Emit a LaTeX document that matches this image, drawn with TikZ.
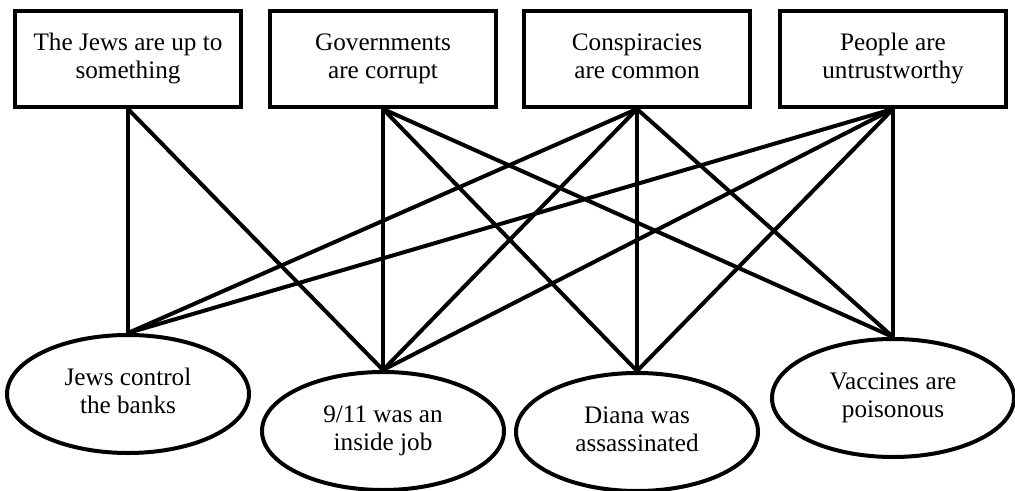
\documentclass[tikz,border=0pt]{standalone}
\usepackage{fontspec}
\setmainfont{Liberation Serif}
\usetikzlibrary{positioning,shapes.geometric}

\newcommand{\nodestrut}{\rule[-3pt]{0pt}{16pt}} % same baselines in every node

\begin{document}
\begin{tikzpicture}[
	line width = 2pt, % line style
	font = \fontsize{12.6}{14.2}\selectfont,
	execute at begin node = \nodestrut, execute at end node = \nodestrut,
	B/.style={rectangle, draw=black, align=center, minimum width=113pt, minimum height=48pt, inner sep=2pt},  %belief box
	E/.style={ellipse, draw=black, align=center, minimum width=121pt, minimum height=59pt, inner sep=0pt},     %theory ellipse
	]
	\useasboundingbox (0,0) rectangle (507.5pt,-245.5pt);

	% General beliefs
	% Nodes and their relative positions
	\node[B] (B1) at (64pt,-29.5pt) {The Jews are up to\\something};
	\node[B] (B2) [right = 12.5pt of B1] {Governments\\are corrupt};
	\node[B] (B3) [right = 12pt of B2] {Conspiracies\\are common};
	\node[B] (B4) [right = 13pt of B3] {People are\\untrustworthy};

	% Specific theories
	% Nodes and their relative positions
	\node[E] (E1) [below = 112pt of B1] {Jews control\\the banks};
	\node[E] (E2) [below = 130.5pt of B2] {9/11 was an\\inside job};
	\node[E] (E3) [below = 131pt of B3] {Diana was\\assassinated};
	\node[E] (E4) [below = 114pt of B4] {Vaccines are\\poisonous};

	% Paths connecting nodes
	\path (B1.south) edge (E1.north);
	\path (B1.south) edge (E2.north);
	\path (B2.south) edge (E2.north);
	\path (B2.south) edge (E3.north);
	\path (B2.south) edge (E4.north);
	\path (B3.south) edge (E1.north);
	\path (B3.south) edge (E2.north);
	\path (B3.south) edge (E3.north);
	\path (B3.south) edge (E4.north);
	\path (B4.south) edge (E1.north);
	\path (B4.south) edge (E2.north);
	\path (B4.south) edge (E3.north);
	\path (B4.south) edge (E4.north);

\end{tikzpicture}
\end{document}
